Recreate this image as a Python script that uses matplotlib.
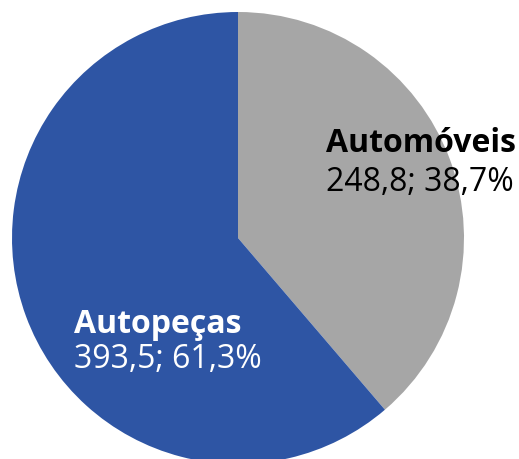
import matplotlib
matplotlib.use('Agg')
import matplotlib.pyplot as plt

# Datos
categorias = ['Automóveis', 'Autopeças']
valores = [248.8, 393.5]
porcentajes = [38.7, 61.3]
colores = ['#A6A6A6', '#2E55A4']

plt.rcParams['font.family'] = ['Open Sans', 'DejaVu Sans']

W, H = 519, 459
fig = plt.figure(figsize=(W / 100, H / 100), dpi=100)

# Centro y radio del círculo en píxeles
cx, cy, r = 238, 238, 226
ax = fig.add_axes([(cx - r) / W, (H - cy - r) / H, 2 * r / W, 2 * r / H])
ax.pie(valores, colors=colores, startangle=90, counterclock=False,
       radius=1, wedgeprops=dict(linewidth=0))
ax.set_xlim(-1, 1)
ax.set_ylim(-1, 1)
ax.set_aspect('auto')
ax.axis('off')

def fmt(v):
    return f"{v:.1f}".replace('.', ',')

# Etiquetas (posición en píxeles: x izquierda, línea base)
posiciones = [(326, 152, 191, 'black'), (74, 333, 368, 'white')]
for cat, v, p, (x, y1, y2, c) in zip(categorias, valores, porcentajes, posiciones):
    fig.text(x / W, 1 - y1 / H, cat, fontsize=23, fontweight='bold', color=c,
             ha='left', va='baseline')
    fig.text(x / W, 1 - y2 / H, f"{fmt(v)}; {fmt(p)}%", fontsize=23, color=c,
             ha='left', va='baseline')

plt.savefig('out.png', dpi=100)
